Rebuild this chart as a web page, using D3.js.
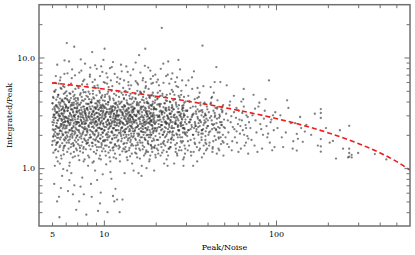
<!DOCTYPE html>
<html><head><meta charset="utf-8">
<script src="https://cdn.jsdelivr.net/npm/d3@7"></script>
<style>html,body{margin:0;padding:0;background:#fff;}svg{display:block;}</style>
</head><body><svg id="c" width="415" height="255"></svg>
<script>
// Peak/Noise vs Integrated/Peak
const sources = [
[5.02,2.61],[5.05,3.4],[5.08,1.92],[5.1,4.3],[5.12,2.2],[5.15,0.72],[5.17,3.05],[5.2,1.45],[5.22,2.85],[5.25,5.1],[5.27,2.4],[5.3,3.7],[5.31,1.7],[5.34,2.05],[5.36,8.6],[5.38,3.2],[5.4,1.15],[5.42,2.7],[5.44,4.6],[5.46,1.88],[5.48,3.45],[5.5,2.3],[5.52,0.36],[5.54,2.95],[5.56,6.2],[5.58,1.6],[5.6,3.9],[5.62,2.5],[5.64,1.3],[5.66,3.1],[5.68,2.15],[5.7,4.05],[5.72,0.85],[5.74,2.75],[5.76,1.98],[5.78,3.6],[5.8,5.5],[5.82,2.35],[5.84,1.52],[5.86,3.3],[5.88,2.6],[5.9,7.1],[5.92,1.78],[5.94,2.9],[5.96,4.8],[5.98,2.1],
[5.03,3.85],[5.06,2.45],[5.09,1.38],[5.13,2.98],[5.16,3.55],[5.19,1.05],[5.23,2.25],[5.26,6.8],[5.29,3.15],[5.33,2.55],[5.35,1.68],[5.39,4.4],[5.41,2.0],[5.45,3.0],[5.49,0.55],[5.51,2.82],[5.53,3.75],[5.57,1.82],[5.59,2.38],[5.61,5.3],[5.65,3.35],[5.67,1.22],[5.69,2.68],[5.73,4.15],[5.75,2.05],[5.77,3.0],[5.81,0.98],[5.83,2.45],[5.85,3.95],[5.87,1.58],[5.89,2.78],[5.91,9.4],[5.93,3.25],[5.95,2.28],[5.97,1.9],[5.99,3.5],[5.04,1.75],[5.11,2.72],[5.18,4.9],[5.24,1.95],[5.32,3.62],[5.37,2.32],[5.43,1.42],[5.47,3.08],[5.55,2.18],[5.63,0.66],[5.71,3.42],[5.79,2.58],[5.85,1.33],[5.93,4.25],[5.07,2.88],[5.14,2.02],[5.21,3.28],[5.28,1.62],[5.47,5.8],[5.66,2.42],[5.84,3.12],[5.97,2.66],[5.55,1.1],[5.35,0.5],
[6.01,2.9],[6.03,1.85],[6.05,3.6],[6.07,2.3],[6.09,13.5],[6.11,4.2],[6.13,1.4],[6.15,2.65],[6.17,3.3],[6.19,0.62],[6.21,2.1],[6.23,5.6],[6.25,2.8],[6.27,1.7],[6.29,3.95],[6.31,2.45],[6.33,1.12],[6.35,3.15],[6.37,2.2],[6.39,4.7],[6.41,2.58],[6.43,1.55],[6.45,3.4],[6.47,0.9],[6.49,2.92],[6.51,6.5],[6.53,2.05],[6.55,3.7],[6.57,1.95],[6.59,2.7],[6.61,0.58],[6.63,3.25],[6.65,2.35],[6.67,4.45],[6.69,1.62],[6.71,2.98],[6.73,12.5],[6.75,3.5],[6.77,2.15],[6.79,1.28],[6.81,2.75],[6.83,5.2],[6.85,3.05],[6.87,2.48],[6.89,1.88],[6.91,0.42],[6.93,3.8],[6.95,2.62],[6.97,1.45],[6.99,3.18],
[6.02,2.38],[6.06,4.95],[6.1,1.98],[6.14,2.82],[6.18,3.48],[6.22,1.78],[6.26,2.55],[6.3,0.78],[6.34,4.1],[6.38,2.72],[6.42,1.35],[6.46,3.02],[6.5,2.28],[6.54,7.8],[6.58,3.38],[6.62,1.68],[6.66,2.42],[6.7,3.9],[6.74,0.7],[6.78,2.88],[6.82,2.08],[6.86,4.3],[6.9,1.5],[6.94,3.22],[6.98,2.52],[6.04,3.58],[6.12,0.95],[6.2,2.68],[6.28,9.2],[6.36,1.92],[6.44,3.72],[6.52,2.18],[6.6,1.25],[6.68,2.95],[6.76,4.6],[6.84,2.32],[6.92,1.72],[6.96,3.45],
[7.01,2.6],[7.04,3.9],[7.07,1.65],[7.1,2.95],[7.13,5.3],[7.16,2.2],[7.19,0.5],[7.22,3.35],[7.25,2.45],[7.28,1.42],[7.31,3.05],[7.34,9.6],[7.37,2.7],[7.4,1.85],[7.43,4.4],[7.46,2.35],[7.49,0.82],[7.52,3.2],[7.55,2.08],[7.58,6.1],[7.61,2.85],[7.64,1.55],[7.67,3.6],[7.7,2.5],[7.73,1.2],[7.76,3.12],[7.79,2.25],[7.82,4.85],[7.85,2.68],[7.88,1.75],[7.91,0.38],[7.94,3.45],[7.97,2.15],
[7.02,1.98],[7.05,2.78],[7.08,4.15],[7.11,1.3],[7.14,3.28],[7.17,2.58],[7.2,7.3],[7.23,1.9],[7.26,3.75],[7.29,2.4],[7.32,0.68],[7.35,2.9],[7.38,3.52],[7.41,1.6],[7.44,2.62],[7.47,5.7],[7.5,2.02],[7.53,3.0],[7.56,1.38],[7.59,2.3],[7.62,4.05],[7.65,0.58],[7.68,2.75],[7.71,3.42],[7.74,1.8],[7.77,8.8],[7.8,2.52],[7.83,3.15],[7.86,1.48],[7.89,2.88],[7.92,4.5],[7.95,2.28],[7.98,1.68],[7.03,3.62],[7.18,2.12],[7.33,4.75],[7.48,2.55],[7.63,1.15],[7.78,3.3],[7.93,2.0],
[8.02,2.7],[8.05,3.8],[8.09,1.7],[8.12,2.4],[8.15,4.9],[8.19,3.1],[8.22,1.25],[8.25,2.85],[8.29,6.7],[8.32,2.2],[8.35,3.45],[8.39,1.9],[8.42,0.72],[8.45,2.6],[8.49,3.95],[8.52,2.35],[8.55,11.2],[8.59,1.58],[8.62,3.25],[8.65,2.05],[8.69,4.35],[8.72,2.75],[8.75,1.4],[8.79,3.0],[8.82,5.5],[8.85,2.5],[8.89,0.95],[8.92,3.55],[8.95,2.15],[8.99,1.82],[9.02,3.15],[9.05,2.62],[9.09,7.9],[9.12,1.45],[9.15,2.9],[9.19,4.05],[9.22,2.3],[9.25,0.41],[9.29,3.38],[9.32,2.0],[9.35,1.72],[9.39,2.78],[9.42,5.0],[9.45,3.05],[9.49,1.3],[9.52,2.48],[9.55,3.7],[9.59,0.6],[9.62,2.25],[9.65,8.3],[9.69,3.3],[9.72,1.62],[9.75,2.68],[9.79,4.55],[9.82,2.1],[9.85,0.88],[9.89,3.2],[9.92,2.55],[9.95,1.5],[9.98,6.0],
[8.03,2.1],[8.07,3.35],[8.1,1.05],[8.14,2.9],[8.17,2.45],[8.2,4.2],[8.24,1.88],[8.27,3.6],[8.3,2.55],[8.34,8.1],[8.37,1.48],[8.4,2.95],[8.44,3.9],[8.47,2.15],[8.5,0.55],[8.54,3.1],[8.57,2.72],[8.6,1.68],[8.64,4.7],[8.67,2.38],[8.7,3.22],[8.74,1.15],[8.77,2.82],[8.8,3.52],[8.84,2.02],[8.87,6.3],[8.9,1.78],[8.94,2.65],[8.97,3.42],[9.0,1.35],[9.04,2.42],[9.07,3.85],[9.1,2.18],[9.14,0.78],[9.17,3.58],[9.2,2.52],[9.24,1.95],[9.27,5.3],[9.3,2.75],[9.34,3.12],[9.37,1.22],[9.4,2.32],[9.44,4.1],[9.47,2.85],[9.5,0.48],[9.54,1.85],[9.57,3.28],[9.6,2.6],[9.64,1.55],[9.67,4.4],[9.7,2.28],[9.74,3.48],[9.77,1.42],[9.8,2.95],[9.84,3.75],[9.87,2.08],[9.9,1.75],[9.94,9.5],[9.97,2.4],[9.96,3.65],
[10.02,2.8],[10.06,3.6],[10.1,1.75],[10.14,2.35],[10.18,4.6],[10.22,3.1],[10.26,1.3],[10.3,2.6],[10.34,7.2],[10.38,2.05],[10.42,3.4],[10.46,1.9],[10.5,0.4],[10.54,2.7],[10.58,3.95],[10.62,2.25],[10.66,5.4],[10.7,1.55],[10.74,3.2],[10.78,2.5],[10.82,4.3],[10.86,2.9],[10.9,1.15],[10.94,3.05],[10.98,6.2],[11.02,2.4],[11.06,0.8],[11.1,3.5],[11.14,2.15],[11.18,1.85],[11.22,3.25],[11.26,2.65],[11.3,9.1],[11.34,1.45],[11.38,2.95],[11.42,4.1],[11.46,2.3],[11.5,0.5],[11.54,3.35],[11.58,2.0],[11.62,1.65],[11.66,2.78],[11.7,3.8],[11.74,2.42],[11.78,1.22],[11.82,3.0],[11.86,5.0],[11.9,2.55],[11.94,0.52],[11.98,3.3],
[10.04,2.18],[10.08,3.02],[10.12,4.05],[10.16,1.6],[10.2,2.88],[10.24,3.5],[10.28,2.0],[10.32,1.08],[10.36,3.22],[10.4,2.48],[10.44,5.8],[10.48,1.8],[10.52,2.68],[10.56,3.75],[10.6,2.12],[10.64,1.38],[10.68,3.08],[10.72,2.58],[10.76,4.45],[10.8,1.95],[10.84,2.38],[10.88,3.45],[10.92,0.92],[10.96,2.72],[11.0,3.15],[11.04,1.7],[11.08,2.52],[11.12,8.2],[11.16,3.38],[11.2,2.08],[11.24,1.52],[11.28,2.82],[11.32,3.62],[11.36,2.28],[11.4,1.25],[11.44,3.1],[11.48,4.7],[11.52,2.45],[11.56,1.88],[11.6,3.55],[11.64,2.62],[11.68,0.65],[11.72,2.98],[11.76,3.9],[11.8,2.2],[11.84,1.58],[11.88,2.75],[11.92,3.28],[11.96,1.98],[11.99,6.6],[10.1,12.0],[11.3,0.56],
[12.05,2.7],[12.1,3.55],[12.15,1.8],[12.2,2.4],[12.25,4.4],[12.3,3.0],[12.35,0.4],[12.4,2.6],[12.45,6.4],[12.5,2.1],[12.55,3.35],[12.6,1.95],[12.65,2.85],[12.7,4.0],[12.75,2.3],[12.8,1.42],[12.85,3.15],[12.9,2.55],[12.95,5.3],[13.0,1.65],[13.05,2.95],[13.1,3.7],[13.15,2.2],[13.2,0.9],[13.25,3.25],[13.3,2.45],[13.35,1.55],[13.4,2.75],[13.45,4.6],[13.5,2.0],[13.55,3.4],[13.6,1.25],[13.65,2.65],[13.7,3.05],[13.75,7.4],[13.8,2.35],[13.85,1.85],[13.9,3.5],[13.95,2.58],[14.0,1.45],[14.05,3.2],[14.1,2.25],[14.15,4.25],[14.2,2.8],[14.25,1.72],[14.3,3.0],[14.35,2.4],[14.4,5.6],[14.45,1.95],[14.5,3.3],[14.55,2.62],[14.6,1.1],[14.65,2.9],[14.7,3.85],[14.75,2.15],[14.8,1.6],[14.85,2.72],[14.9,3.45],[14.95,2.05],
[12.08,2.2],[12.13,3.0],[12.18,4.9],[12.23,1.6],[12.28,2.75],[12.33,3.8],[12.38,1.32],[12.43,2.5],[12.48,3.25],[12.53,2.02],[12.58,8.6],[12.63,1.75],[12.68,2.62],[12.73,3.58],[12.78,2.35],[12.83,0.52],[12.88,3.08],[12.93,2.15],[12.98,1.5],[13.03,2.48],[13.08,4.2],[13.13,2.78],[13.18,1.88],[13.23,3.6],[13.28,2.12],[13.33,5.0],[13.38,1.4],[13.43,2.95],[13.48,3.3],[13.53,2.28],[13.58,1.68],[13.63,3.9],[13.68,2.55],[13.73,1.18],[13.78,2.85],[13.83,3.15],[13.88,6.0],[13.93,2.0],[13.98,2.68],[14.03,3.75],[14.08,1.52],[14.13,2.42],[14.18,3.02],[14.23,2.18],[14.28,4.7],[14.33,1.8],[14.38,2.92],[14.43,3.55],[14.48,2.32],[14.53,1.35],[14.58,3.18],[14.63,2.5],[14.68,4.35],[14.73,1.9],[14.78,2.78],[14.83,3.32],[14.88,0.95],[14.93,2.6],[14.98,3.05],
[15.05,2.6],[15.1,3.45],[15.2,1.85],[15.25,2.3],[15.3,4.2],[15.4,2.95],[15.45,1.35],[15.5,2.55],[15.6,5.9],[15.65,2.05],[15.7,3.3],[15.8,1.95],[15.85,2.8],[15.9,3.85],[16.0,2.25],[16.05,1.5],[16.1,3.1],[16.2,2.5],[16.25,4.9],[16.3,1.7],[16.4,2.9],[16.45,3.6],[16.5,2.15],[16.6,1.05],[16.65,3.2],[16.7,2.4],[16.8,1.6],[16.85,2.7],[16.9,4.4],[17.0,2.0],[17.05,3.35],[17.1,1.3],[17.2,2.6],[17.25,3.0],[17.3,8.4],[17.4,2.3],[17.45,1.8],[17.5,3.45],[17.6,2.52],[17.65,1.45],[17.7,3.15],[17.8,2.2],[17.85,4.0],[17.9,2.75],[18.0,1.75],[18.05,2.95],[18.1,2.35],[18.2,5.2],[18.25,1.9],[18.3,3.25],[18.4,2.6],[18.45,1.2],[18.5,2.85],[18.6,3.7],[18.65,2.1],[18.7,1.62],[18.8,2.68],[18.85,3.4],[18.9,2.0],[19.0,4.6],[19.05,2.45],[19.1,1.4],[19.2,3.05],[19.25,2.3],[19.3,6.8],[19.4,1.85],[19.45,2.78],[19.5,3.55],[19.6,2.18],[19.65,1.52],[19.7,3.0],[19.8,2.5],[19.9,4.1],[19.95,1.95],
[15.08,2.15],[15.15,3.0],[15.22,4.7],[15.35,1.6],[15.42,2.7],[15.55,3.7],[15.62,1.25],[15.75,2.45],[15.82,3.2],[15.95,2.05],[16.02,10.5],[16.15,1.78],[16.22,2.62],[16.35,3.5],[16.42,2.3],[16.55,0.85],[16.62,3.0],[16.75,2.12],[16.82,1.48],[16.95,2.52],[17.02,4.1],[17.15,2.75],[17.22,1.88],[17.35,3.52],[17.42,2.1],[17.55,5.5],[17.62,1.4],[17.75,2.92],[17.82,3.28],[17.95,2.25],[18.02,1.68],[18.15,3.85],[18.22,2.55],[18.35,1.15],[18.42,2.82],[18.55,3.1],[18.62,7.6],[18.75,2.0],[18.82,2.62],[18.95,3.65],[19.02,1.55],[19.15,2.4],[19.22,2.98],[19.35,2.15],[19.42,4.5],[19.55,1.78],[19.62,2.88],[19.75,3.45],[19.82,2.28],[19.92,1.32],[15.3,9.0],[16.8,6.2],[17.7,1.0],[18.9,5.8],[19.6,0.95],[15.9,0.9],[16.4,4.8],[17.2,3.9],[18.5,4.3],[19.2,3.8],[15.6,3.95],[16.1,2.85],[16.9,2.38],[17.6,2.65],[18.3,2.0],[19.4,2.6],[15.45,2.35],[16.65,1.9],[17.9,3.05],[19.0,2.72],[15.7,1.7],[18.8,1.6],[17.4,12.0],
[20.1,2.6],[20.2,3.4],[20.3,1.8],[20.4,2.3],[20.5,4.3],[20.6,2.9],[20.7,1.35],[20.8,2.5],[20.9,5.6],[21.0,2.05],[21.1,3.25],[21.2,1.9],[21.3,2.75],[21.4,3.8],[21.5,2.2],[21.6,1.55],[21.7,18.5],[21.75,3.05],[21.8,2.45],[21.9,4.7],[22.0,1.7],[22.1,2.85],[22.2,3.55],[22.3,2.1],[22.4,1.1],[22.5,3.15],[22.6,2.35],[22.7,1.6],[22.8,2.65],[22.9,4.1],[23.0,1.95],[23.1,3.3],[23.2,1.4],[23.3,2.55],[23.4,2.95],[23.5,7.0],[23.6,2.25],[23.7,1.8],[23.8,3.4],[23.9,2.45],[24.0,1.5],[24.1,3.1],[24.2,2.15],[24.3,3.95],[24.4,2.7],[24.5,1.7],[24.6,2.9],[24.7,2.3],[24.8,5.1],[24.9,1.9],
[20.15,2.15],[20.35,3.0],[20.55,4.8],[20.75,1.62],[20.95,2.7],[21.15,3.6],[21.35,1.3],[21.55,2.45],[21.75,3.2],[21.95,2.0],[22.15,8.8],[22.35,1.75],[22.55,2.6],[22.75,3.45],[22.95,2.3],[23.15,1.2],[23.35,3.0],[23.55,2.12],[23.75,1.5],[23.95,2.52],[24.15,4.0],[24.35,2.72],[24.55,1.85],[24.75,3.5],[24.95,2.1],[20.25,6.0],[20.65,1.45],[21.05,2.9],[21.45,3.3],[21.85,2.25],[22.25,1.65],[22.65,3.85],[23.05,2.55],[23.45,1.05],[23.85,2.8],[24.25,3.1],[24.65,6.4],[20.85,2.35],[21.65,2.62],[22.45,2.92],[23.25,2.02],[24.05,3.35],[24.85,2.4],[20.45,3.75],[22.85,4.4],[23.65,9.2],[21.25,4.5],[24.45,1.55],
[25.1,2.6],[25.3,3.4],[25.4,1.8],[25.6,2.3],[25.8,4.2],[25.9,2.85],[26.1,1.4],[26.3,2.5],[26.4,5.5],[26.6,2.0],[26.8,3.2],[26.9,1.9],[27.1,2.7],[27.3,3.7],[27.4,2.2],[27.6,1.55],[27.8,3.0],[27.9,2.4],[28.1,4.6],[28.3,1.7],[28.4,2.8],[28.6,3.5],[28.8,2.1],[28.9,1.2],[29.1,3.1],[29.3,2.3],[29.4,1.6],[29.6,2.6],[29.8,4.0],[29.9,2.0],
[25.2,2.15],[25.5,3.0],[25.7,4.6],[26.0,1.62],[26.2,2.7],[26.5,3.6],[26.7,1.3],[27.0,2.45],[27.2,3.2],[27.5,2.0],[27.7,7.8],[28.0,1.75],[28.2,2.6],[28.5,3.4],[28.7,2.3],[29.0,1.05],[29.2,3.0],[29.5,2.1],[29.7,1.5],[25.9,2.5],[26.6,6.6],[27.3,1.45],[28.0,2.9],[28.7,3.3],[29.4,2.25],[25.4,2.9],[26.2,3.9],[27.8,2.55],[28.5,1.9],[29.8,2.75],[26.9,2.35],[25.6,1.1],[28.2,5.0],[27.1,9.5],[29.0,3.7],[26.4,2.05],[28.9,2.45],[25.0,3.55],[27.5,3.0],[29.6,1.35],
[30.2,2.5],[30.5,3.3],[30.8,1.75],[31.1,2.2],[31.4,4.0],[31.7,2.75],[32.0,1.4],[32.3,2.45],[32.6,5.2],[32.9,2.0],[33.2,3.1],[33.5,1.85],[33.8,2.6],[34.1,3.6],[34.4,2.15],[34.7,1.55],[35.0,2.9],[35.3,2.35],[35.6,4.4],[35.9,1.7],[36.2,2.7],[36.5,3.3],[36.8,2.05],[37.1,1.25],[37.4,12.8],[37.7,2.25],[38.0,1.6],[38.3,2.55],[38.6,3.8],[38.9,1.95],[39.2,3.0],[39.5,2.3],[39.8,1.5],
[30.35,2.1],[30.65,2.9],[30.95,4.5],[31.25,1.6],[31.55,2.6],[31.85,3.5],[32.15,1.3],[32.45,2.35],[32.75,3.05],[33.05,2.0],[33.35,7.5],[33.65,1.7],[33.95,2.5],[34.25,3.25],[34.55,2.25],[34.85,1.15],[35.15,2.8],[35.45,2.1],[35.75,1.45],[36.05,2.4],[36.35,3.9],[36.65,2.6],[36.95,1.8],[37.25,3.35],[37.55,2.05],[37.85,5.5],[38.15,1.35],[38.45,2.7],[38.75,3.1],[39.05,2.15],[39.35,1.65],[39.65,3.6],[39.95,2.4],[31.0,6.2],[33.0,1.05],[35.0,3.4],[36.0,4.8],[38.0,2.9],[32.0,2.75],[34.0,2.4],[37.0,2.2],[39.0,2.6],[30.5,1.95],[35.5,2.55],[33.7,4.2],[31.9,2.25],[36.9,3.0],[38.9,1.8],
[40.3,2.4],[40.7,3.2],[41.1,1.7],[41.5,2.15],[41.9,3.9],[42.3,2.7],[42.7,1.4],[43.1,2.45],[43.5,4.8],[43.9,1.95],[44.3,3.0],[44.7,1.8],[45.1,2.55],[45.5,3.45],[45.9,2.1],[46.3,1.5],[46.7,2.85],[47.1,2.3],[47.5,6.0],[47.9,1.65],[48.3,2.6],[48.7,3.2],[49.1,2.0],[49.5,1.3],[49.9,2.75],
[40.5,2.0],[41.3,2.85],[42.1,4.3],[42.9,1.55],[43.7,2.5],[44.5,3.5],[45.3,1.35],[46.1,2.35],[46.9,3.05],[47.7,1.9],[48.5,2.45],[49.3,3.7],[40.9,1.6],[42.5,2.25],[44.1,2.9],[45.7,4.1],[47.3,2.6],[48.9,1.75],[41.7,5.4],[43.3,3.3],[44.9,2.2],[46.5,1.85],[48.1,3.4],[49.7,2.35],[45.0,8.2],[44.0,6.0],[42.5,4.4],
[50.5,2.3],[51.3,3.1],[52.1,1.65],[52.9,2.1],[53.7,3.7],[54.5,2.6],[55.3,1.45],[56.1,2.35],[56.9,4.5],[57.7,1.9],[58.5,2.85],[59.3,1.7],[60.1,2.5],[60.9,3.3],[61.7,2.05],[62.5,1.5],[63.3,2.7],[64.1,2.2],[64.9,5.2],[65.7,1.6],[66.5,2.45],[67.3,3.0],[68.1,1.95],[68.9,1.35],[69.7,2.6],
[50.9,1.9],[52.5,2.7],[54.1,4.0],[55.7,1.75],[57.3,2.25],[58.9,3.5],[60.5,1.4],[62.1,2.4],[63.7,3.15],[65.3,2.0],[66.9,1.7],[68.5,2.9],[51.7,5.6],[55.0,2.95],[59.0,2.15],[62.9,4.0],[67.0,2.3],[53.3,1.55],[57.0,3.2],[61.3,2.75],[65.0,3.6],[69.0,1.85],[64.5,4.2],
[71,2.3],[73,3.0],[75,1.6],[77,2.1],[79,3.6],[81,2.5],[83,1.5],[85,2.8],[87,4.2],[89,1.9],[91,6.2],[93,2.6],[95,1.45],[97,2.2],[99,3.2],[72,1.8],[76,2.7],[80,3.9],[84,2.0],[88,2.4],[92,1.7],[96,3.0],[74,4.6],[78,1.4],[82,2.25],[86,3.3],[90,2.05],[94,2.75],[98,1.55],[75.5,3.45],
[102,2.3],[106,3.0],[110,1.55],[114,2.1],[118,3.5],[122,2.55],[125,1.5],[129,2.55],[132,1.44],[132,2.04],[134,1.84],[138,2.9],[143,1.73],[147,2.14],[150,2.46],[108,1.9],[116,4.1],[126,1.75],[140,2.3],
[160,2.0],[168,3.1],[175,1.6],[182,3.42],[182,3.15],[182,2.84],[182,1.83],[182,1.57],[182,1.41],[195,2.3],[205,1.7],[214,1.76],[223,1.22],[235,2.2],[245,1.5],
[266,2.41],[266,1.5],[266,1.37],[266,1.27],[262,1.25],[275,1.32],[275,1.25],[300,1.37],[375,1.34],[437,1.2],
[5.01,1.62],[5.03,3.85],[5.05,2.24],[5.07,4.4],[5.09,1.95],[5.11,3.05],[5.13,2.58],[5.15,4.95],[5.17,1.78],[5.19,3.42],[5.21,2.12],[5.23,2.86],[5.25,3.68],[5.27,1.48],[5.29,4.15],[5.31,2.4],[5.33,3.2],[5.35,1.88],[5.37,2.7],[5.39,3.55],[5.41,1.72],[5.43,4.6],[5.45,2.32],[5.47,3.92],[5.49,2.05],[5.51,3.28],[5.53,1.55],[5.55,2.95],[5.57,4.25],[5.59,2.18],[5.61,3.62],[5.63,1.9],[5.65,2.78],[5.67,5.2],[5.69,2.5],[5.71,3.12],[5.73,1.68],[5.75,4.05],[5.77,2.28],[5.79,3.48],[5.81,2.0],[5.83,2.92],[5.85,4.7],[5.87,1.82],[5.89,3.35],[5.91,2.45],[5.93,3.78],[5.95,1.6],[5.97,2.62],[5.99,4.3],
[6.02,3.7],[6.04,2.1],[6.06,2.85],[6.08,1.7],[6.1,4.5],[6.12,2.42],[6.14,3.3],[6.16,1.92],[6.18,4.1],[6.2,2.6],[6.22,3.52],[6.24,1.5],[6.26,2.95],[6.28,3.95],[6.3,2.2],[6.32,4.75],[6.34,1.82],[6.36,3.08],[6.38,2.48],[6.4,3.6],[6.42,2.0],[6.44,4.3],[6.46,2.72],[6.48,1.65],[6.5,3.4],[6.52,2.3],[6.54,3.88],[6.56,1.88],[6.58,2.8],[6.6,4.9],[6.62,2.15],[6.64,3.18],[6.66,1.58],[6.68,3.72],[6.7,2.55],[6.72,4.2],[6.74,2.02],[6.76,3.0],[6.78,1.78],[6.8,3.5],[6.84,2.62],[6.88,4.05],[6.92,2.25],[6.96,3.28],[6.98,1.95],
[7.0,3.5],[7.03,2.2],[7.06,4.3],[7.09,1.8],[7.12,2.9],[7.15,3.75],[7.18,2.4],[7.21,1.6],[7.24,3.15],[7.27,4.6],[7.3,2.05],[7.33,2.75],[7.36,3.9],[7.39,1.95],[7.42,3.35],[7.45,2.5],[7.48,4.1],[7.51,1.72],[7.54,2.88],[7.57,3.6],[7.6,2.15],[7.63,4.85],[7.66,2.62],[7.69,1.85],[7.72,3.25],[7.75,2.35],[7.78,4.2],[7.81,1.98],[7.84,3.05],[7.87,2.55],[7.9,3.82],[7.93,1.66],[7.96,2.8],[7.99,3.45],[7.11,2.6],[7.41,3.1],[7.71,2.25],[7.26,1.52],[7.56,5.1],[7.86,2.98],
[8.01,3.5],[8.04,2.2],[8.07,4.4],[8.1,1.8],[8.13,2.95],[8.16,3.8],[8.19,2.35],[8.22,1.6],[8.25,3.2],[8.28,4.7],[8.31,2.0],[8.34,2.75],[8.37,3.95],[8.4,1.9],[8.43,3.4],[8.46,2.52],[8.49,4.15],[8.52,1.7],[8.55,2.9],[8.58,3.62],[8.61,2.12],[8.64,5.0],[8.67,2.6],[8.7,1.82],[8.73,3.3],[8.76,2.3],[8.79,4.25],[8.82,1.98],[8.85,3.08],[8.88,2.58],[8.91,3.85],[8.94,1.62],[8.97,2.82],[9.0,3.48],[9.03,2.2],[9.06,4.55],[9.09,1.9],[9.12,3.15],[9.15,2.45],[9.18,3.7],[9.21,1.75],[9.24,2.92],[9.27,4.0],[9.3,2.08],[9.33,3.38],[9.36,1.55],[9.39,2.68],[9.42,3.9],[9.45,2.3],[9.48,4.8],[9.51,1.85],[9.54,3.02],[9.57,2.55],[9.6,3.55],[9.63,2.0],[9.66,4.3],[9.69,1.68],[9.72,2.85],[9.75,3.65],[9.78,2.25],[9.81,3.1],[9.84,1.92],[9.87,4.1],[9.9,2.5],[9.93,3.3],[9.96,1.78],[9.99,2.78],[8.5,3.05],[9.0,2.65],[9.5,3.5],
[10.03,3.5],[10.08,2.2],[10.13,4.4],[10.18,1.8],[10.23,2.95],[10.28,3.8],[10.33,2.35],[10.38,1.6],[10.43,3.2],[10.48,4.7],[10.53,2.0],[10.58,2.75],[10.63,3.95],[10.68,1.9],[10.73,3.4],[10.78,2.52],[10.83,4.15],[10.88,1.7],[10.93,2.9],[10.98,3.62],[11.03,2.12],[11.08,5.0],[11.13,2.6],[11.18,1.82],[11.23,3.3],[11.28,2.3],[11.33,4.25],[11.38,1.98],[11.43,3.08],[11.48,2.58],[11.53,3.85],[11.58,1.62],[11.63,2.82],[11.68,3.48],[11.73,2.2],[11.78,4.55],[11.83,1.9],[11.88,3.15],[11.93,2.45],[11.98,3.7],
[12.03,1.75],[12.1,2.92],[12.17,4.0],[12.24,2.08],[12.31,3.38],[12.38,1.55],[12.45,2.68],[12.52,3.9],[12.59,2.3],[12.66,4.8],[12.73,1.85],[12.8,3.02],[12.87,2.55],[12.94,3.55],[13.01,2.0],[13.08,4.3],[13.15,1.68],[13.22,2.85],[13.29,3.65],[13.36,2.25],[13.43,3.1],[13.5,1.92],[13.57,4.1],[13.64,2.5],[13.71,3.3],[13.78,1.78],[13.85,2.78],[13.92,3.45],[13.99,2.15],[14.06,4.5],[14.13,1.88],[14.2,3.05],[14.27,2.6],[14.34,3.75],[14.41,2.05],[14.48,4.2],[14.55,1.65],[14.62,2.88],[14.69,3.6],[14.76,2.28],[14.83,3.22],[14.9,1.95],[14.97,4.0],
[10.5,2.45],[11.0,3.25],[11.5,2.7],[12.0,3.0],[12.5,2.2],[13.0,3.4],[13.5,2.65],[14.0,2.95],[14.5,2.38],[10.25,3.1],[10.75,2.3],[11.25,3.6],[11.75,2.9],[12.25,2.55],[12.75,3.2],[13.25,2.1],[13.75,3.8],[14.25,2.72],[14.75,3.38],[10.9,1.45],[12.2,1.5],[13.6,1.42],[14.4,1.6],[11.4,1.55],[10.6,4.9],[12.9,4.6],[14.1,5.2],
[15.04,3.5],[15.14,2.2],[15.24,4.3],[15.34,1.8],[15.44,2.95],[15.54,3.8],[15.64,2.35],[15.74,1.62],[15.84,3.2],[15.94,4.6],[16.04,2.0],[16.14,2.75],[16.24,3.95],[16.34,1.9],[16.44,3.4],[16.54,2.52],[16.64,4.15],[16.74,1.7],[16.84,2.9],[16.94,3.62],[17.04,2.12],[17.14,4.9],[17.24,2.6],[17.34,1.82],[17.44,3.3],[17.54,2.3],[17.64,4.25],[17.74,1.98],[17.84,3.08],[17.94,2.58],[18.04,3.85],[18.14,1.65],[18.24,2.82],[18.34,3.48],[18.44,2.2],[18.54,4.5],[18.64,1.9],[18.74,3.15],[18.84,2.45],[18.94,3.7],[19.04,1.75],[19.14,2.92],[19.24,4.0],[19.34,2.08],[19.44,3.38],[19.54,1.55],[19.64,2.68],[19.74,3.9],[19.84,2.3],[19.94,4.4],
[15.2,2.7],[15.5,3.05],[15.8,2.4],[16.1,3.3],[16.4,2.15],[16.7,3.55],[17.0,2.85],[17.3,2.45],[17.6,3.2],[17.9,2.0],[18.2,3.6],[18.5,2.5],[18.8,2.95],[19.1,2.25],[19.4,3.15],[19.7,2.55],[15.35,1.5],[16.25,1.45],[17.15,1.55],[18.05,1.4],[18.95,1.5],[19.85,1.6],[15.65,5.0],[16.55,4.7],[17.45,5.3],[18.35,4.4],[19.25,4.8],[15.95,3.7],[16.85,2.25],[17.75,3.9],[18.65,2.7],[19.55,3.45],
[20.05,3.4],[20.25,2.2],[20.45,4.2],[20.65,1.8],[20.85,2.95],[21.05,3.7],[21.25,2.35],[21.45,1.65],[21.65,3.15],[21.85,4.5],[22.05,2.0],[22.25,2.75],[22.45,3.85],[22.65,1.9],[22.85,3.35],[23.05,2.5],[23.25,4.05],[23.45,1.72],[23.65,2.88],[23.85,3.55],[24.05,2.1],[24.25,4.7],[24.45,2.6],[24.65,1.82],[24.85,3.25],[25.05,2.3],[25.3,4.1],[25.55,1.98],[25.8,3.05],[26.05,2.55],[26.3,3.75],[26.55,1.68],[26.8,2.8],[27.05,3.45],[27.3,2.18],[27.55,4.35],[27.8,1.9],[28.05,3.1],[28.3,2.42],[28.55,3.65],[28.8,1.75],[29.05,2.9],[29.3,3.9],[29.55,2.05],[29.8,3.3],
[20.5,2.7],[21.0,3.0],[21.5,2.45],[22.0,3.25],[22.5,2.15],[23.0,3.5],[23.5,2.8],[24.0,2.35],[24.5,3.1],[25.0,2.0],[25.5,3.4],[26.0,2.6],[26.5,2.9],[27.0,2.2],[27.5,3.2],[28.0,2.5],[28.5,2.75],[29.0,2.3],[29.5,3.0],[20.3,1.5],[22.2,1.45],[24.2,1.55],[26.2,1.5],[28.2,1.45],[21.2,5.0],[23.2,4.6],[25.2,4.9],[27.2,4.5],[29.2,4.4],[20.9,3.8],[22.9,2.6],[24.9,3.7],[26.9,2.4],[28.9,3.5],
[30.4,3.3],[30.9,2.2],[31.4,4.0],[31.9,1.8],[32.4,2.9],[32.9,3.6],[33.4,2.3],[33.9,1.65],[34.4,3.1],[34.9,4.3],[35.4,2.0],[35.9,2.7],[36.4,3.7],[36.9,1.9],[37.4,3.2],[37.9,2.45],[38.4,3.9],[38.9,1.7],[39.4,2.8],[39.9,3.4],[40.8,2.1],[41.6,3.8],[42.4,2.5],[43.2,1.75],[44.0,3.15],[44.8,2.25],[45.6,3.55],[46.4,1.9],[47.2,2.95],[48.0,2.45],[48.8,3.3],[49.6,1.7],
[31.2,2.6],[32.7,3.0],[34.2,2.4],[35.7,3.25],[37.2,2.2],[38.7,3.0],[40.2,2.7],[42.0,2.95],[43.8,2.3],[45.4,2.8],[47.0,2.1],[48.6,3.6],[30.7,1.45],[33.2,1.4],[36.2,1.5],[39.2,1.45],[42.8,1.5],[46.8,1.45],
[5.2,5.9],[5.6,6.6],[5.9,5.4],[6.15,7.2],[6.45,5.8],[6.8,6.9],[7.05,5.5],[7.4,7.6],[7.7,6.3],[8.0,5.7],[8.3,7.0],[8.6,6.0],[8.9,8.5],[9.2,5.6],[9.5,6.8],[9.8,7.4],[10.15,5.9],[10.5,6.6],[10.85,8.0],[11.2,5.5],[11.55,7.1],[11.9,6.0],[12.3,5.8],[12.7,7.5],[13.1,6.2],[13.5,8.3],[13.9,5.6],[14.3,6.9],[14.8,7.8],[15.3,6.1],[15.8,5.7],[16.3,7.3],[16.9,6.5],[17.5,6.0],[18.1,8.1],[18.7,6.4],[19.3,5.9],[19.9,7.0],[20.6,6.3],[21.4,7.9],[22.2,5.9],[23.0,6.8],[24.0,5.8],[25.0,7.2],[26.0,6.0],[27.0,5.4],[28.5,6.2],[30.0,5.6],[32.5,6.6],[35.0,5.3],
[5.3,1.25],[5.8,1.45],[6.3,1.05],[6.7,1.4],[7.2,1.18],[7.6,1.5],[8.1,1.3],[8.6,1.12],[9.1,1.55],[9.6,1.2],[10.2,1.42],[10.8,1.25],[11.6,1.35],[12.4,1.15],[13.2,1.48],[14.2,1.28],[15.2,1.38],[16.2,1.22],[17.4,1.35],[18.6,1.3],[20.0,1.25],[21.8,1.38],[23.6,1.3],[26.6,1.35],[29.2,1.25]
];

// dashed red relation
const curveX = [5, 7, 10, 15, 20, 30, 50, 70, 100, 150, 200, 300, 400, 500, 600];
const curveY = [5.9, 5.56, 5.19, 4.77, 4.47, 4.05, 3.53, 3.18, 2.81, 2.39, 2.09, 1.67, 1.38, 1.15, 0.96];

const xMinorTicks = [5,6,7,8,9,20,30,40,50,60,70,80,90,200,300,400,500];
const xMajorTicks = [10,100];
const xTickLabels = [5,10,100];
const yMinorTicks = [0.4,0.5,0.6,0.7,0.8,0.9,2,3,4,5,6,7,8,9,20];
const yMajorTicks = [1,10];
const yTickLabels = [1,10];
const xDomain = [4.2, 600];
const yDomain = [0.3, 30];

const L = 39, R = 410, T = 4.7, B = 226;
const svg = d3.select("#c");
const x = d3.scaleLog().domain(xDomain).range([L, R]);
const y = d3.scaleLog().domain(yDomain).range([B, T]);
const frameColor = "#707070";
const font = "'DejaVu Serif', serif";

svg.append("g").selectAll("circle").data(sources).join("circle")
  .attr("cx", d => x(d[0])).attr("cy", d => y(d[1])).attr("r", 1.15)
  .attr("fill", "#2a2a2a").attr("fill-opacity", 0.6);

const line = d3.line().x((d,i) => x(curveX[i])).y((d,i) => y(curveY[i])).curve(d3.curveMonotoneX);
svg.append("path").attr("d", line(curveX)).attr("fill","none")
  .attr("stroke","#ee1c1c").attr("stroke-width",1.6).attr("stroke-dasharray","5,3");

function ticks(axisFn, scale, vals, len, pos, labels, fmt, pad) {
  const a = axisFn(scale).tickValues(vals).tickSizeInner(-len).tickSizeOuter(0).tickPadding(pad || 4)
    .tickFormat(d => labels && labels.includes(d) ? fmt(d) : "");
  const g = svg.append("g").attr("transform", pos).call(a);
  g.select(".domain").remove();
  g.selectAll("line").attr("stroke", frameColor).attr("stroke-width", 1);
  g.selectAll("text").attr("font-family", font).attr("font-size", 8).attr("fill", "#000");
  return g;
}
const xf = d => String(d), yf = d => d.toFixed(1);
ticks(d3.axisBottom, x, xMinorTicks, 3.5, `translate(0,${B})`, xTickLabels, xf, 5);
ticks(d3.axisBottom, x, xMajorTicks, 5.5, `translate(0,${B})`, xTickLabels, xf, 5);
ticks(d3.axisTop, x, xMinorTicks, 3.5, `translate(0,${T})`, null, xf);
ticks(d3.axisTop, x, xMajorTicks, 5.5, `translate(0,${T})`, null, xf);
ticks(d3.axisLeft, y, yMinorTicks, 3.5, `translate(${L},0)`, yTickLabels, yf, 4);
ticks(d3.axisLeft, y, yMajorTicks, 5.5, `translate(${L},0)`, yTickLabels, yf, 4);
ticks(d3.axisRight, y, yMinorTicks, 3.5, `translate(${R},0)`, null, yf);
ticks(d3.axisRight, y, yMajorTicks, 5.5, `translate(${R},0)`, null, yf);

svg.append("rect").attr("x", L).attr("y", T).attr("width", R - L).attr("height", B - T)
  .attr("fill","none").attr("stroke", frameColor).attr("stroke-width", 1.5);

svg.append("text").attr("x", (L + R) / 2).attr("y", 250).attr("text-anchor","middle")
  .attr("font-family", font).attr("font-size", 8).attr("fill","#000").text("Peak/Noise");
svg.append("text").attr("transform", `translate(12,${(T + B) / 2}) rotate(-90)`).attr("text-anchor","middle")
  .attr("font-family", font).attr("font-size", 8).attr("fill","#000").text("Integrated/Peak");
</script></body></html>
